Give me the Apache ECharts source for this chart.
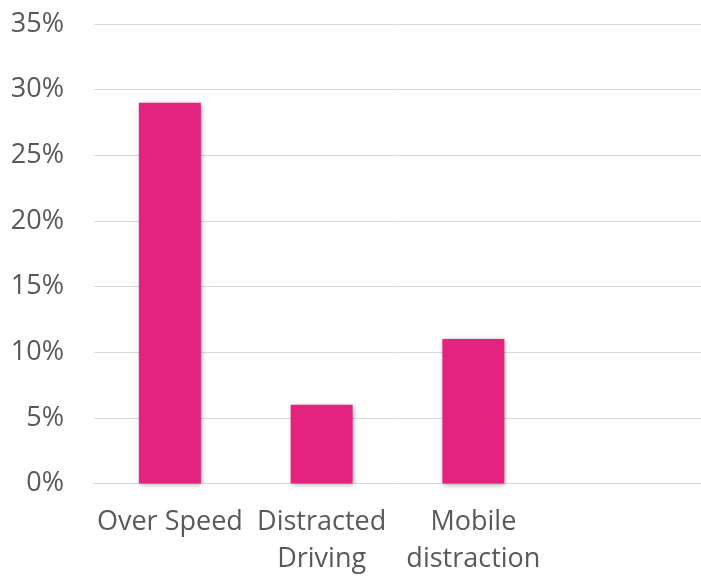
<!DOCTYPE html>
<html>
<head>
<meta charset="utf-8">
<script src="https://cdn.jsdelivr.net/npm/echarts@6/dist/echarts.min.js"></script>
<style>html,body{margin:0;padding:0;background:#fff;overflow:hidden}#c{width:701px;height:578px}</style>
</head>
<body>
<div id="c"></div>
<script>
var categories = ['Over Speed', 'Distracted\nDriving', 'Mobile\ndistraction', ''];
var values = [0.29, 0.06, 0.11, null];
var yTicks = { min: 0, max: 0.35, interval: 0.05 };

var chart = echarts.init(document.getElementById('c'));
chart.setOption({
  animation: false,
  grid: { left: 94, width: 614, top: 24, bottom: 94.5, containLabel: false },
  xAxis: {
    type: 'category',
    data: categories,
    axisLine: { show: true, lineStyle: { color: '#d9d9d9', width: 1 } },
    axisTick: { show: false },
    axisLabel: {
      color: '#595959', fontFamily: 'Open Sans', fontSize: 27,
      lineHeight: 37, margin: 20, interval: 0
    }
  },
  yAxis: {
    type: 'value',
    min: yTicks.min, max: yTicks.max, interval: yTicks.interval,
    axisLine: { show: false },
    axisTick: { show: false },
    splitLine: { lineStyle: { color: '#d9d9d9', width: 1 } },
    axisLabel: {
      color: '#595959', fontFamily: 'Open Sans', fontSize: 27, margin: 30,
      formatter: function (v) { return Math.round(v * 100) + '%'; }
    }
  },
  series: [{
    type: 'bar',
    data: values,
    barWidth: 62,
    itemStyle: {
      color: '#E3237F',
      shadowColor: 'rgba(0,0,0,0.35)', shadowBlur: 5, shadowOffsetX: 1, shadowOffsetY: 1
    }
  }]
});
</script>
</body>
</html>
